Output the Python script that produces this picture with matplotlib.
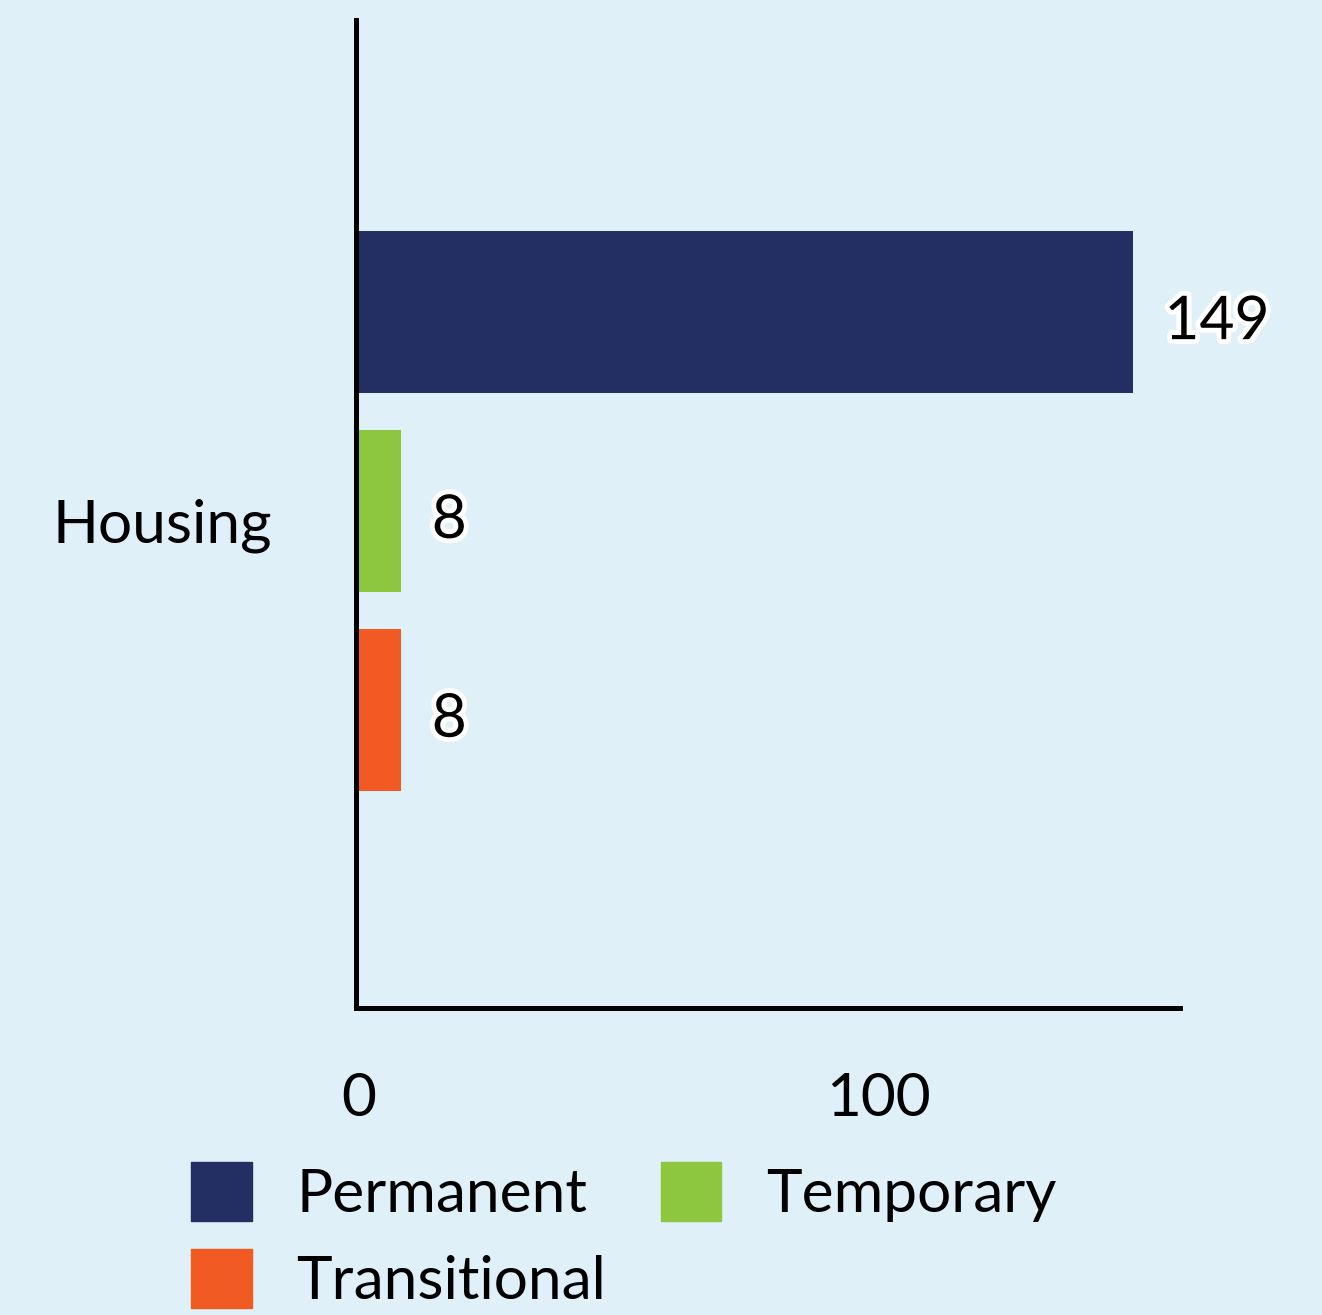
import matplotlib
matplotlib.use('Agg')
import matplotlib.pyplot as plt
import matplotlib.patheffects as pe
from matplotlib.patches import Patch

category = 'Housing'
series = ['Permanent', 'Temporary', 'Transitional']
values = [149, 8, 8]
colors = ['#232f63', '#8dc63f', '#f15a22']
bg = '#dff0f8'

plt.rcParams['font.family'] = ['Lato', 'DejaVu Sans']

fig = plt.figure(figsize=(13.22, 13.15), dpi=100, facecolor=bg)
ax = fig.add_axes([359 / 1322, 1 - 1008 / 1315, 821 / 1322, 988 / 1315])
ax.set_facecolor(bg)

pos = list(range(len(series)))
ax.barh(pos, values, height=0.815, color=colors)
ax.set_ylim(3.5, -1.47)
ax.set_xlim(0, 158)

for p, v in zip(pos, values):
    ax.text(v + 6, p + 0.05, str(v), va='center', ha='left', fontsize=43.5,
            path_effects=[pe.withStroke(linewidth=7, foreground='white')])

for s in ['top', 'right']:
    ax.spines[s].set_visible(False)
ax.spines['left'].set_linewidth(3.6)
ax.spines['bottom'].set_linewidth(3.6)
ax.spines['left'].set_position(('outward', 2))

ax.set_xticks([0, 100])
ax.set_xticklabels(['0', '100'])
ax.tick_params(axis='x', length=0, pad=46, labelsize=43.5)
ax.set_yticks([1.05])
ax.set_yticklabels([category])
ax.tick_params(axis='y', length=0, pad=61, labelsize=43.5)

# legend fills column-wise, so order handles to read row-wise
order = [0, 2, 1]
handles = [Patch(facecolor=colors[i], edgecolor=colors[i]) for i in order]
labels = [series[i] for i in order]
fig.legend(handles, labels, loc='upper left', bbox_to_anchor=(167 / 1322, 1 - 1138 / 1315),
           ncol=2, frameon=False, fontsize=43.5, handlelength=1.0, handleheight=1.12,
           handletextpad=0.74, columnspacing=0.9, labelspacing=0.45, borderaxespad=0)

fig.savefig('out.png', dpi=100, facecolor=bg)
